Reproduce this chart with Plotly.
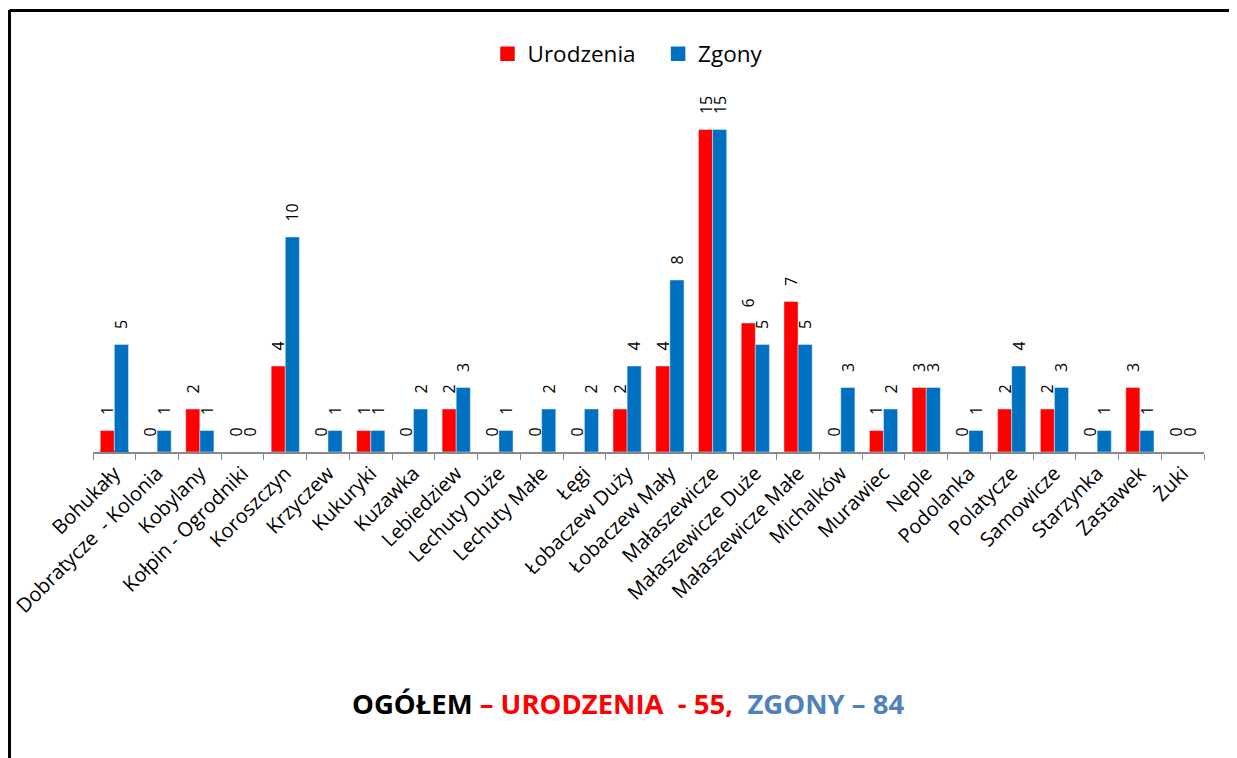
import plotly.graph_objects as go

categories = ["Bohukały", "Dobratycze  - Kolonia", "Kobylany", "Kołpin - Ogrodniki", "Koroszczyn",
              "Krzyczew", "Kukuryki", "Kuzawka", "Lebiedziew", "Lechuty Duże", "Lechuty Małe",
              "Łęgi", "Łobaczew Duży", "Łobaczew Mały", "Małaszewicze", "Małaszewicze Duże",
              "Małaszewicze Małe", "Michalków", "Murawiec", "Neple", "Podolanka", "Polatycze",
              "Samowicze", "Starzynka", "Zastawek", "Żuki"]
urodzenia = [1, 0, 2, 0, 4, 0, 1, 0, 2, 0, 0, 0, 2, 4, 15, 6, 7, 0, 1, 3, 0, 2, 2, 0, 3, 0]
zgony = [5, 1, 1, 0, 10, 1, 1, 2, 3, 1, 2, 2, 4, 8, 15, 5, 5, 3, 2, 3, 1, 4, 3, 1, 1, 0]

# the page shows the figure with an 8px body margin
W, H = 1229, 750
L, R, T, B = 85, 33, 80, 306
pw, ph = W - L - R, H - T - B
unit = 21.5
ymax = ph / unit

def px(x):
    return (x - L) / pw

def py(y):
    return (H - B - y) / ph

fnt = "Open Sans, Noto Sans, sans-serif"
pad = "\u00a0\u00a0\u00a0"

def labels(vals):
    return [pad + str(v) for v in vals]

fig = go.Figure()
fig.add_trace(go.Bar(x=categories, y=urodzenia, name="Urodzenia", marker_color="#FF0000",
                     offsetgroup="u", text=labels(urodzenia), textposition="outside", textangle=-90,
                     constraintext="none", showlegend=False,
                     textfont=dict(size=16, color="black", family=fnt), cliponaxis=False))
fig.add_trace(go.Bar(x=categories, y=zgony, name="Zgony", marker_color="#0070C0",
                     offsetgroup="z", text=labels(zgony), textposition="outside", textangle=-90,
                     constraintext="none", showlegend=False,
                     textfont=dict(size=16, color="black", family=fnt), cliponaxis=False))
# legend entries
fig.add_trace(go.Bar(x=[categories[0]], y=[0], name="Urodzenia\u00a0\u00a0\u00a0", offsetgroup="u", hoverinfo="skip",
                     marker=dict(color="#FF0000", line=dict(color="#FF0000", width=2.5))))
fig.add_trace(go.Bar(x=[categories[0]], y=[0], name="Zgony", offsetgroup="z", hoverinfo="skip",
                     marker=dict(color="#0070C0", line=dict(color="#0070C0", width=2.5))))

fig.update_layout(
    width=W, height=H,
    margin=dict(l=L, r=R, t=T, b=B, autoexpand=False),
    paper_bgcolor="white", plot_bgcolor="white",
    barmode="group", bargap=0.34, bargroupgap=0,
    font=dict(family=fnt, color="black"),
    showlegend=True,
    legend=dict(orientation="h", x=px(620), xanchor="center", y=py(46), yanchor="middle",
                font=dict(size=22.5, family=fnt), itemwidth=30, traceorder="normal"),
    xaxis=dict(showline=True, linecolor="#898989", linewidth=1.5, ticks="outside",
               tickson="boundaries", ticklen=6, tickcolor="#898989", tickangle=-45,
               automargin=False,
               tickfont=dict(size=20, family=fnt, color="black"), showgrid=False),
    yaxis=dict(visible=False, range=[0, ymax], showgrid=False, zeroline=False, automargin=False),
)

fig.add_annotation(
    xref="paper", yref="paper", x=px(620), y=py(695), xanchor="center", yanchor="middle",
    showarrow=False, font=dict(size=27.5, family=fnt),
    text=("<b><span style='color:black'>OGÓŁEM</span> "
          "<span style='color:#FF0000'>– URODZENIA  - 55,</span>  "
          "<span style='color:#4F81BD'>ZGONY – 84</span></b>"),
)

# frame
fig.add_shape(type="line", xref="paper", yref="paper", x0=px(1.5), x1=px(1.5), y0=py(2), y1=py(H + 10),
              line=dict(color="black", width=3))
fig.add_shape(type="line", xref="paper", yref="paper", x0=px(1.5), x1=px(W + 10), y0=py(2.5), y1=py(2.5),
              line=dict(color="black", width=3))

fig.write_html("out.html")
